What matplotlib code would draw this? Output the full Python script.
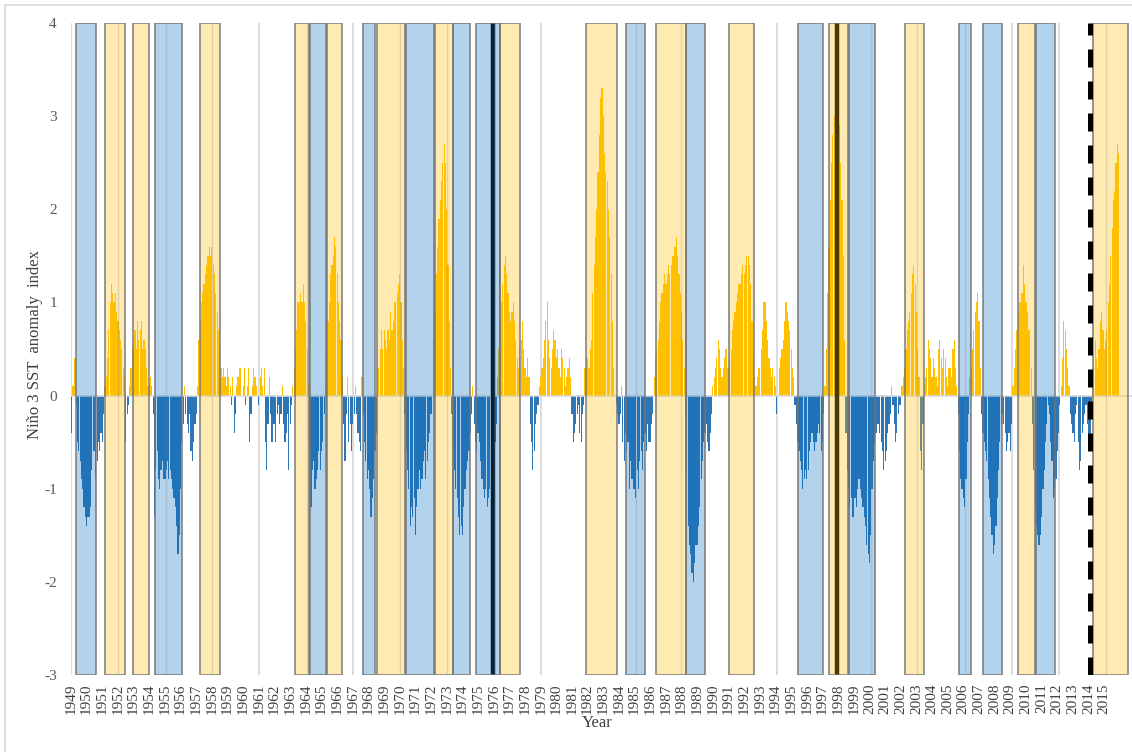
import numpy as np
import matplotlib.pyplot as plt
from matplotlib.patches import Rectangle
from matplotlib.lines import Line2D

# monthly Nino 3 SST anomaly, Jan..Dec
nino3 = {
    1949: [-0.4, 0.1, 0.1, 0.4, -0.1, -0.5, -0.6, -0.7, -0.9, -1.0, -1.2, -1.3],
    1950: [-1.4, -1.3, -1.3, -1.2, -0.8, -0.6, -0.6, -0.9, -0.7, -0.5, -0.6, -0.4],
    1951: [-0.5, -0.2, 0.1, 0.2, 0.4, 0.7, 1.0, 1.2, 1.1, 1.0, 1.1, 0.9],
    1952: [0.8, 0.7, 0.6, 0.5, 0.3, 0.2, -0.5, -0.2, -0.1, 0.1, 0.3, 0.5],
    1953: [0.6, 0.7, 0.5, 0.8, 0.6, 0.7, 0.8, 0.5, 0.6, 0.5, 0.3, 0.1],
    1954: [0.1, 0.2, 0.1, -0.2, -1.3, -0.8, -0.6, -0.9, -1.0, -0.8, -0.7, -0.9],
    1955: [-0.9, -0.8, -0.7, -0.9, -0.8, -0.9, -1.0, -1.1, -1.2, -1.4, -1.7, -1.5],
    1956: [-1.0, -0.5, -0.3, 0.1, -0.2, -0.3, -0.4, -0.2, -0.6, -0.7, -0.5, -0.3],
    1957: [-0.2, 0.1, 0.6, 0.8, 1.0, 1.1, 1.2, 1.3, 1.4, 1.5, 1.6, 1.5],
    1958: [1.6, 1.4, 1.3, 1.1, 0.9, 0.7, 0.5, 0.3, 0.2, 0.3, 0.2, 0.1],
    1959: [0.3, 0.2, 0.1, -0.1, 0.2, -0.4, -0.2, 0.1, 0.2, 0.3, 0.3, 0.0],
    1960: [0.1, 0.3, -0.1, 0.1, 0.3, -0.5, -0.2, 0.1, 0.3, 0.2, 0.1, 0.0],
    1961: [-0.1, 0.2, 0.3, 0.1, 0.3, -0.5, -0.8, -0.3, 0.2, -0.2, -0.5, -0.3],
    1962: [-0.3, -0.5, -0.2, -0.1, -0.3, -0.2, 0.1, -0.3, -0.5, -0.4, -0.2, -0.8],
    1963: [-0.3, -0.1, 0.1, 0.3, 0.5, 0.7, 1.0, 1.0, 1.1, 1.0, 1.2, 1.0],
    1964: [0.8, 0.5, 0.1, -0.5, -1.2, -0.8, -0.7, -1.0, -0.9, -0.8, -0.6, -0.8],
    1965: [-0.6, -0.5, -0.2, 0.1, 0.4, 0.8, 1.0, 1.3, 1.4, 1.5, 1.7, 1.6],
    1966: [1.3, 1.0, 0.8, 0.6, 0.2, -0.3, -0.7, -0.2, 0.2, -0.5, -0.3, -0.6],
    1967: [-0.3, -0.2, 0.1, -0.2, -0.4, -0.5, -0.6, 0.2, -0.2, -0.5, -0.7, -0.9],
    1968: [-0.8, -1.0, -1.3, -1.1, -0.9, -0.6, -0.4, 0.3, 0.3, 0.5, 0.7, 0.5],
    1969: [0.7, 0.6, 0.5, 0.7, 0.6, 0.9, 0.7, 0.8, 1.0, 1.0, 1.1, 1.2],
    1970: [1.3, 1.0, 0.6, 0.3, -0.2, -0.6, -0.8, -1.0, -1.4, -1.2, -1.3, -1.1],
    1971: [-1.5, -1.2, -1.0, -0.8, -1.0, -0.9, -0.7, -0.6, -0.9, -0.7, -0.5, -0.4],
    1972: [-0.2, 0.0, 0.6, 0.9, 1.3, 1.6, 1.9, 2.1, 2.3, 2.5, 2.7, 2.5],
    1973: [2.0, 1.4, 0.8, 0.3, -0.2, -0.5, -0.8, -1.0, -1.1, -1.3, -1.5, -1.4],
    1974: [-1.5, -1.2, -1.0, -0.8, -0.7, -0.6, -0.4, -0.2, 0.1, -0.3, -0.5, -0.6],
    1975: [-0.4, -0.5, -0.7, -0.9, -1.0, -1.1, -1.0, -1.2, -1.1, -1.0, -0.9, -0.8],
    1976: [-0.7, -0.5, -0.3, 0.2, 0.5, 0.8, 1.0, 1.2, 1.4, 1.5, 1.3, 1.1],
    1977: [0.9, 0.8, 0.9, 1.0, 0.8, 0.6, 0.4, 0.3, 0.5, 0.6, 0.8, 0.5],
    1978: [0.3, 0.2, 0.4, 0.2, -0.3, -0.5, -0.8, -0.6, -0.3, -0.2, -0.1, 0.1],
    1979: [0.2, 0.3, 0.4, 0.6, 0.8, 1.0, 0.6, 0.4, 0.3, 0.5, 0.7, 0.6],
    1980: [0.4, 0.5, 0.3, 0.2, 0.5, 0.4, 0.3, 0.1, 0.2, 0.3, 0.4, 0.2],
    1981: [-0.2, -0.5, -0.4, -0.3, -0.2, -0.1, -0.4, -0.5, -0.2, -0.1, 0.3, 0.4],
    1982: [0.4, 0.3, 0.5, 0.6, 1.1, 1.4, 1.7, 2.0, 2.4, 2.8, 3.2, 3.3],
    1983: [3.0, 2.6, 2.4, 2.3, 2.0, 1.7, 1.3, 0.8, 0.3, 0.0, -0.1, -0.2],
    1984: [-0.3, -0.2, 0.1, -0.5, -0.7, -0.4, -0.6, -0.5, -1.0, -0.7, -0.9, -1.0],
    1985: [-1.0, -1.1, -0.8, -1.0, -0.7, -0.6, -0.8, -0.5, -0.4, -0.6, -0.3, -0.5],
    1986: [-0.5, -0.3, -0.2, 0.2, 0.4, 0.5, 0.6, 0.8, 1.0, 1.1, 1.2, 1.3],
    1987: [1.2, 1.3, 1.4, 1.3, 1.4, 1.5, 1.5, 1.6, 1.7, 1.5, 1.3, 1.1],
    1988: [0.9, 0.6, 0.3, -0.2, -0.8, -1.4, -1.6, -1.7, -1.9, -2.0, -1.8, -1.6],
    1989: [-1.6, -1.4, -1.2, -0.9, -0.7, -0.5, -0.4, -0.3, -0.5, -0.6, -0.4, -0.2],
    1990: [0.1, 0.2, 0.3, 0.4, 0.6, 0.5, 0.3, 0.2, 0.3, 0.4, 0.5, 0.3],
    1991: [0.3, 0.4, 0.5, 0.7, 0.8, 0.9, 1.0, 1.1, 1.2, 1.2, 1.3, 1.4],
    1992: [1.3, 1.4, 1.5, 1.5, 1.4, 1.2, 0.8, 0.4, 0.2, 0.1, 0.2, 0.3],
    1993: [0.3, 0.5, 0.7, 1.0, 1.0, 0.8, 0.6, 0.4, 0.3, 0.2, 0.3, 0.2],
    1994: [0.1, -0.2, 0.0, 0.3, 0.4, 0.5, 0.6, 0.8, 1.0, 0.9, 0.8, 0.7],
    1995: [0.5, 0.3, 0.2, -0.1, -0.3, -0.5, -0.6, -0.7, -0.8, -1.0, -0.9, -0.8],
    1996: [-0.9, -0.8, -0.6, -0.5, -0.4, -0.5, -0.6, -0.5, -0.4, -0.3, -0.4, -0.6],
    1997: [-0.5, -0.2, 0.1, 0.5, 1.1, 1.6, 2.1, 2.5, 2.8, 3.0, 3.1, 3.2],
    1998: [3.1, 2.9, 2.5, 2.1, 1.5, 0.6, -0.4, -0.8, -1.0, -1.2, -1.1, -1.3],
    1999: [-1.3, -1.1, -1.2, -1.0, -0.9, -1.0, -1.1, -1.2, -1.3, -1.4, -1.6, -1.7],
    2000: [-1.8, -1.5, -1.0, -0.7, -0.5, -0.4, -0.3, -0.3, -0.4, -0.5, -0.6, -0.8],
    2001: [-0.7, -0.6, -0.4, -0.3, -0.2, 0.1, -0.1, -0.3, -0.5, -0.4, -0.2, -0.1],
    2002: [-0.1, 0.1, 0.2, 0.3, 0.5, 0.7, 0.8, 0.9, 1.1, 1.3, 1.4, 1.2],
    2003: [0.9, 0.5, 0.2, -0.6, -0.8, -0.3, 0.1, 0.2, 0.3, 0.6, 0.5, 0.4],
    2004: [0.2, 0.4, 0.3, 0.2, 0.1, 0.5, 0.6, 0.4, 0.3, 0.5, 0.4, 0.2],
    2005: [0.1, 0.3, 0.3, 0.2, 0.5, 0.6, 0.3, 0.1, -0.2, -0.6, -0.9, -1.0],
    2006: [-1.1, -1.2, -0.9, -0.5, -0.2, 0.2, 0.3, 0.5, 0.7, 0.9, 1.0, 1.1],
    2007: [0.8, 0.3, -0.2, -0.4, -0.5, -0.6, -0.7, -0.9, -1.1, -1.3, -1.5, -1.7],
    2008: [-1.6, -1.4, -1.1, -0.8, -0.5, -0.3, -0.2, -0.3, -0.4, -0.6, -0.5, -0.4],
    2009: [-0.6, -0.3, 0.1, 0.3, 0.5, 0.7, 0.9, 1.0, 1.0, 1.1, 1.4, 1.2],
    2010: [1.0, 0.9, 0.7, 0.7, 0.3, -0.3, -0.8, -1.2, -1.4, -1.5, -1.6, -1.5],
    2011: [-1.3, -1.0, -0.8, -0.5, -0.3, -0.1, -0.2, -0.5, -0.7, -1.1, -1.0, -0.9],
    2012: [-0.6, -0.4, -0.1, 0.1, 0.4, 0.8, 0.7, 0.5, 0.3, 0.1, -0.2, -0.3],
    2013: [-0.4, -0.5, -0.2, -0.1, -0.5, -0.8, -0.7, -0.4, -0.3, -0.2, -0.1, -0.3],
    2014: [-0.5, -0.6, -0.2, 0.3, 0.3, 0.6, 0.4, 0.3, 0.5, 0.8, 0.9, 0.7],
    2015: [0.5, 0.6, 0.7, 1.0, 1.2, 1.5, 1.8, 2.1, 2.2, 2.5, 2.7, 2.6],
}

# shaded event periods (start, end) in decimal years
la_nina = [(1949.34, 1950.57), (1954.34, 1956.06), (1964.24, 1965.30),
           (1967.65, 1968.41), (1970.41, 1972.20), (1973.43, 1974.50),
           (1974.86, 1976.37), (1984.44, 1985.65), (1988.30, 1989.52),
           (1995.46, 1997.06), (1998.70, 2000.37), (2005.73, 2006.48),
           (2007.27, 2008.48), (2010.62, 2011.84)]
el_nino = [(1951.15, 1952.42), (1952.93, 1953.98), (1957.24, 1958.53),
           (1963.28, 1964.20), (1965.37, 1966.32), (1968.54, 1970.33),
           (1972.22, 1973.43), (1976.37, 1977.65), (1981.92, 1983.88),
           (1986.39, 1988.30), (1991.01, 1992.64), (1997.39, 1998.65),
           (2002.24, 2003.49), (2009.46, 2010.58), (2014.30, 2016.50)]
inner_lines = [1952.0, 1955.04, 1958.0, 1964.1, 1970.0, 1973.0, 1976.0,
               1985.07, 1987.98, 2000.09, 2003.07, 2006.11, 2015.11]
grey_lines = [1949.0, 1961.0, 1967.0, 1979.0, 1994.08, 2009.09, 2012.12]
shift_lines = [1975.95, 1997.95]
dash_line = 2014.08

years = sorted(nino3)
t = np.array([y + m / 12.0 for y in years for m in range(12)])
v = np.array([x for y in years for x in nino3[y]])

plt.rcParams['font.family'] = 'Liberation Serif'

fig = plt.figure(figsize=(11.32, 7.52), dpi=100)
ax = fig.add_axes([70.7 / 1132, 77 / 752, 1061.3 / 1132, 652 / 752])

# chart frame (left/top)
fig.add_artist(Line2D([5 / 1132, 5 / 1132], [0, 1 - 5 / 752], color='#D9D9D9', lw=1.2))
fig.add_artist(Line2D([5 / 1132, 1], [1 - 5 / 752, 1 - 5 / 752], color='#D9D9D9', lw=1.2))

for x in grey_lines:
    ax.plot([x, x], [-3, 4], color='#D9D9D9', lw=1.3, zorder=1)

cols = np.where(v >= 0, '#FFC000', '#2E75B6')
ax.bar(t, v, width=1 / 12.0 * 0.9, color=cols, linewidth=0, zorder=2)
ax.axhline(0, color='#D9D9D9', lw=1.2, zorder=2.5)

# shift lines sit under the translucent boxes
for x in shift_lines:
    ax.plot([x, x], [-3, 4], color='black', lw=3.2, zorder=3)

for a, b in la_nina:
    ax.add_patch(Rectangle((a, -3), b - a, 7, facecolor=(0, 0.439, 0.753, 0.3),
                           edgecolor=(0.45, 0.45, 0.45, 0.8), lw=1.3, zorder=4))
for a, b in el_nino:
    ax.add_patch(Rectangle((a, -3), b - a, 7, facecolor=(1, 0.753, 0, 0.3),
                           edgecolor=(0.45, 0.45, 0.45, 0.8), lw=1.3, zorder=4))
for x in inner_lines:
    ax.plot([x, x], [-3, 4], color=(0.5, 0.5, 0.5, 0.25), lw=1.0, zorder=4.5)

ax.plot([dash_line, dash_line], [-3, 4], color='black', lw=3.6,
        dashes=(3.6, 2.8), zorder=5)

ax.set_xlim(1949 - 0.02, 1949 + 1061.3 / 15.66)
ax.set_ylim(-3, 4)
ax.set_xticks(years)
ax.set_xticklabels([str(y) for y in years], rotation=90, fontsize=11, color='#404040')
ax.set_yticks(range(-3, 5))
ax.set_yticklabels([str(y) for y in range(-3, 5)], fontsize=11, color='#595959')
ax.tick_params(length=0)
ax.tick_params(axis='x', pad=6)
ax.tick_params(axis='y', pad=10)
for s in ax.spines.values():
    s.set_visible(False)

fig.text(35 / 1132, 1 - 345 / 752, 'Niño 3 SST  anomaly  index', rotation=90,
         ha='center', va='center', fontsize=12, color='#404040')
fig.text(597 / 1132, 1 - 723 / 752, 'Year', ha='center', va='center',
         fontsize=12, color='#404040')

fig.savefig('out.png', dpi=100)
